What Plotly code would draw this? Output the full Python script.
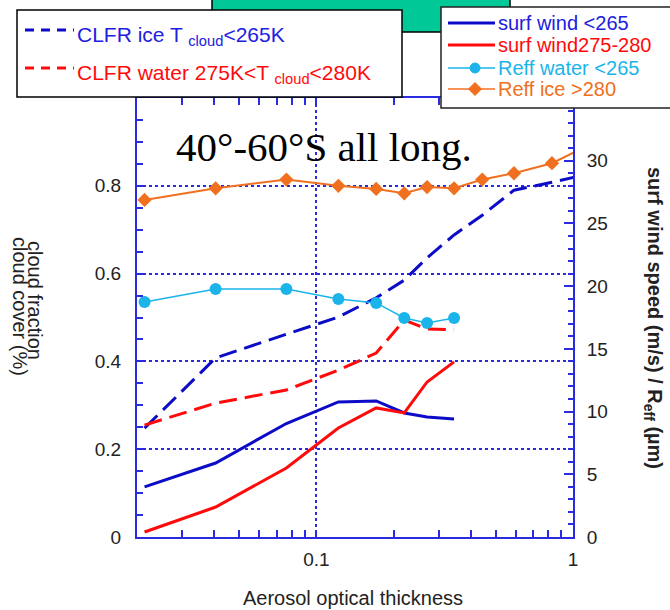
import plotly.graph_objects as go

# ---- data ----
aod = [0.0214, 0.0405, 0.0764, 0.1218, 0.171, 0.220, 0.270, 0.344, 0.443, 0.589, 0.828, 1.17]
clfr_ice = [0.248, 0.408, 0.462, 0.501, 0.545, 0.585, 0.636, 0.688, 0.733, 0.790, 0.808, 0.828]
clfr_water = [0.255, 0.305, 0.335, 0.380, 0.419, 0.494, 0.474, 0.472]
wind_ice = [3.99, 5.90, 9.05, 10.77, 10.85, 9.89, 9.57, 9.41]
wind_water = [0.40, 2.39, 5.50, 8.69, 10.29, 9.89, 12.36, 13.96]
reff_water = [18.74, 19.78, 19.78, 18.98, 18.66, 17.46, 17.07, 17.46]
reff_ice = [26.87, 27.8, 28.5, 28.0, 27.75, 27.4, 27.9, 27.8, 28.5, 29.0, 29.8, 31.3]

left_ticks = [0, 0.2, 0.4, 0.6, 0.8]
right_ticks = [0, 5, 10, 15, 20, 25, 30]
x_ticks = [0.1, 1]
x_minor = [0.03, 0.04, 0.05, 0.06, 0.07, 0.08, 0.09, 0.2, 0.3, 0.4, 0.5, 0.6, 0.7, 0.8, 0.9]

BLUE = "#0c0cc8"
RED = "#ff0a0a"
CYAN = "#1ab4ea"
ORANGE = "#f07020"
AXIS = "#2a2ae0"
SANS = "Liberation Sans, Arial, sans-serif"

W, H = 670, 610
L, R, T, B = 137, 97, 98, 73
PW, PH = W - L - R, H - T - B


def px(x):
    return (x - L) / PW


def py(y):
    return (H - B - y) / PH


fig = go.Figure()

fig.add_trace(go.Scatter(x=aod[:len(clfr_ice)], y=clfr_ice, mode="lines", yaxis="y",
                         line=dict(color=BLUE, width=3, dash="18px,8px"), showlegend=False))
fig.add_trace(go.Scatter(x=aod[:len(clfr_water)], y=clfr_water, mode="lines", yaxis="y",
                         line=dict(color=RED, width=3, dash="18px,8px"), showlegend=False))
fig.add_trace(go.Scatter(x=aod[:len(wind_ice)], y=wind_ice, mode="lines", yaxis="y2",
                         line=dict(color=BLUE, width=3), showlegend=False))
fig.add_trace(go.Scatter(x=aod[:len(wind_water)], y=wind_water, mode="lines", yaxis="y2",
                         line=dict(color=RED, width=3), showlegend=False))
fig.add_trace(go.Scatter(x=aod[:len(reff_water)], y=reff_water, mode="lines+markers", yaxis="y2",
                         line=dict(color=CYAN, width=1.5),
                         marker=dict(symbol="circle", size=12, color=CYAN), showlegend=False))
fig.add_trace(go.Scatter(x=aod[:len(reff_ice)], y=reff_ice, mode="lines+markers", yaxis="y2",
                         line=dict(color=ORANGE, width=2),
                         marker=dict(symbol="diamond", size=11, color=ORANGE), showlegend=False))

tickfont = dict(family=SANS, size=19, color="#222")

fig.update_layout(
    width=W, height=H,
    margin=dict(l=L, r=R, t=T, b=B),
    paper_bgcolor="white", plot_bgcolor="white",
    showlegend=False,
    xaxis=dict(type="log", range=[-1.699, 0], tickmode="array", tickvals=x_ticks, ticktext=["0.1", "1"],
               showline=True, linecolor=AXIS, linewidth=2, mirror="allticks",
               ticks="inside", ticklen=7, tickwidth=2, tickcolor=AXIS,
               showgrid=True, gridcolor=AXIS, griddash="dot", gridwidth=1.5,
               minor=dict(tickmode="array", tickvals=x_minor, ticks="inside", ticklen=7, tickwidth=2,
                          tickcolor=AXIS, showgrid=False),
               tickfont=tickfont, ticklabelstandoff=4, zeroline=False),
    yaxis=dict(range=[0, 1.0], tickmode="array", tickvals=left_ticks, showline=True, linecolor=AXIS, linewidth=2,
               ticks="inside", ticklen=6, tickwidth=2, tickcolor=AXIS,
               showgrid=True, gridcolor=AXIS, griddash="dot", gridwidth=1.5,
               minor=dict(tickmode="linear", tick0=0, dtick=0.05, ticks="inside", ticklen=6, tickwidth=2,
                          tickcolor=AXIS, showgrid=False),
               tickfont=tickfont, ticklabelstandoff=10, zeroline=False),
    yaxis2=dict(range=[0, 35], tickmode="array", tickvals=right_ticks, overlaying="y", side="right",
                showline=True, linecolor=AXIS, linewidth=2,
                ticks="inside", ticklen=9, tickwidth=2, tickcolor=AXIS,
                showgrid=False,
                minor=dict(tickmode="linear", tick0=0, dtick=1, ticks="inside", ticklen=5, tickwidth=2,
                           tickcolor=AXIS, showgrid=False),
                tickfont=tickfont, ticklabelstandoff=8, zeroline=False),
)

shapes = []
# green box at top
shapes.append(dict(type="rect", xref="paper", yref="paper", layer="above",
                   x0=px(212), x1=px(510), y0=py(32), y1=py(-2),
                   fillcolor="#00c896", line=dict(color="black", width=1.5)))
# left legend box
shapes.append(dict(type="rect", xref="paper", yref="paper", layer="above",
                   x0=px(17), x1=px(402), y0=py(97), y1=py(10),
                   fillcolor="white", line=dict(color="black", width=1.5)))
# right legend box
shapes.append(dict(type="rect", xref="paper", yref="paper", layer="above",
                   x0=px(441), x1=px(680), y0=py(108), y1=py(7),
                   fillcolor="white", line=dict(color="#222", width=1.5)))
# left legend samples
for yy, c in [(30, BLUE), (68, RED)]:
    shapes.append(dict(type="line", xref="paper", yref="paper", layer="above",
                       x0=px(25), x1=px(74), y0=py(yy), y1=py(yy),
                       line=dict(color=c, width=3, dash="9px,7px")))
# right legend samples
for yy, c, w in [(23, BLUE, 3), (45, RED, 3), (68, CYAN, 1.5), (89, ORANGE, 1.5)]:
    shapes.append(dict(type="line", xref="paper", yref="paper", layer="above",
                       x0=px(448), x1=px(495), y0=py(yy), y1=py(yy),
                       line=dict(color=c, width=w)))
shapes.append(dict(type="circle", xref="paper", yref="paper", layer="above",
                   x0=px(470), x1=px(480), y0=py(73), y1=py(63),
                   fillcolor=CYAN, line=dict(color=CYAN, width=1)))
cx, cy, r = 475, 89, 6.5
shapes.append(dict(type="path", xref="paper", yref="paper", layer="above",
                   path=f"M {px(cx-r)},{py(cy)} L {px(cx)},{py(cy-r)} L {px(cx+r)},{py(cy)} L {px(cx)},{py(cy+r)} Z",
                   fillcolor=ORANGE, line=dict(color=ORANGE, width=1)))

ann = []
ann.append(dict(text="CLFR ice T <sub>cloud</sub>&lt;265K", x=px(75), y=py(36), xanchor="left",
                yanchor="middle", font=dict(family=SANS, size=21, color="#2020e0")))
ann.append(dict(text="CLFR water 275K&lt;T <sub>cloud</sub>&lt;280K", x=px(75), y=py(74),
                xanchor="left", yanchor="middle", font=dict(family=SANS, size=21, color=RED)))
for yy, t, c in [(23, "surf wind &lt;265", "#2020e0"), (45, "surf wind275-280", RED),
                 (68, "Reff water &lt;265", CYAN), (89, "Reff ice &gt;280", ORANGE)]:
    ann.append(dict(text=t, x=px(496), y=py(yy), xanchor="left", yanchor="middle",
                    font=dict(family=SANS, size=20, color=c)))
ann.append(dict(text="40°-60°S all long.", x=px(174), y=py(147), xanchor="left", yanchor="middle",
                font=dict(family="Liberation Serif, Times New Roman, serif", size=41, color="black")))
ann.append(dict(text="Aerosol optical thickness", x=px(353), y=py(598), xanchor="center",
                yanchor="middle", font=dict(family=SANS, size=20, color="#222")))
ann.append(dict(text="cloud cover (%)", x=px(20), y=py(306), xanchor="center", yanchor="middle",
                textangle=90, font=dict(family=SANS, size=20, color="#222")))
ann.append(dict(text="cloud fraction", x=px(35), y=py(300), xanchor="center", yanchor="middle",
                textangle=90, font=dict(family=SANS, size=20, color="#222")))
ann.append(dict(text="<b>surf wind speed (m/s) / R<sub>eff</sub> (µm)</b>", x=px(654), y=py(318),
                xanchor="center", yanchor="middle", textangle=90,
                font=dict(family=SANS, size=20, color="#222")))
for a in ann:
    a.update(xref="paper", yref="paper", showarrow=False)

fig.update_layout(shapes=shapes, annotations=ann)
fig.write_html("out.html")
